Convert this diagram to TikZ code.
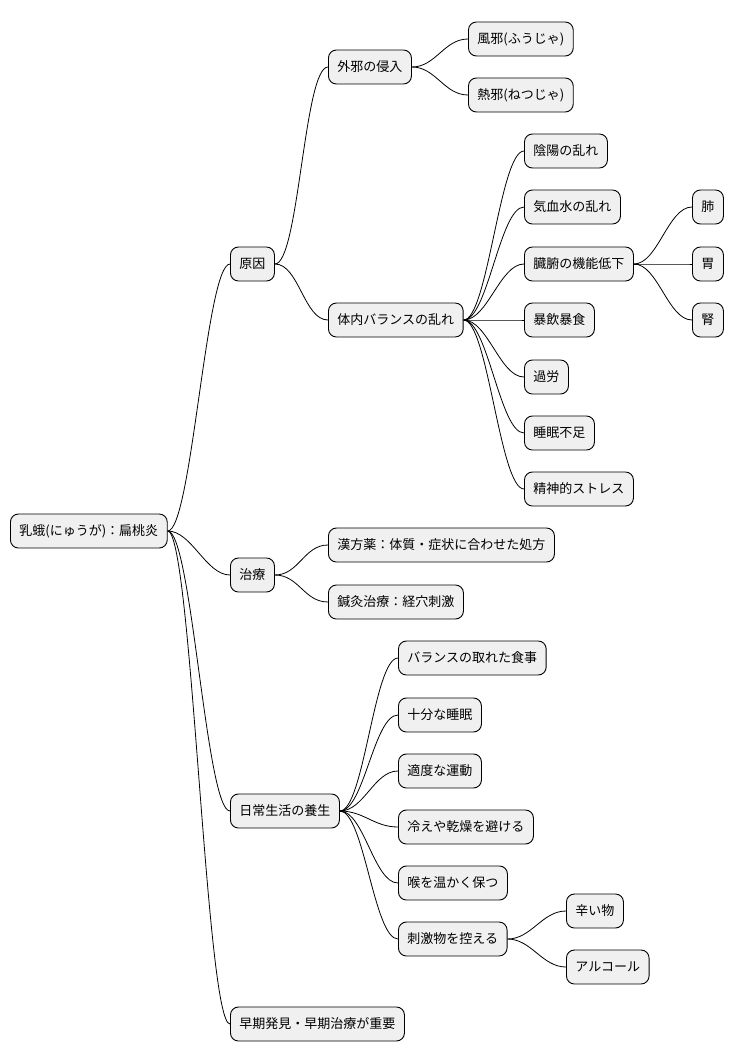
\documentclass[tikz,border=0pt]{standalone}
\usepackage{fontspec}
\setmainfont{Noto Sans CJK JP}
\begin{document}
\begin{tikzpicture}[x=1pt,y=-1pt,
 nd/.style={draw=black,line width=0.9pt,fill=black!6,rounded corners=8pt,anchor=west,minimum height=34pt,inner xsep=9pt,font=\fontsize{13}{15}\selectfont},
 ln/.style={line width=0.8pt}]
\useasboundingbox (0,0) rectangle (737,1062);
\node[nd] (r) at (10,531) {乳蛾(にゅうが)：扁桃炎};
\node[nd] (a) at (230,264) {原因};
\node[nd] (b) at (230,575) {治療};
\node[nd] (c) at (230,811) {日常生活の養生};
\node[nd] (d) at (230,1024) {早期発見・早期治療が重要};
\node[nd] (a1) at (328,67) {外邪の侵入};
\node[nd] (a2) at (328,320) {体内バランスの乱れ};
\node[nd] (a11) at (468,39) {風邪(ふうじゃ)};
\node[nd] (a12) at (468,95) {熱邪(ねつじゃ)};
\node[nd] (a21) at (524,151) {陰陽の乱れ};
\node[nd] (a22) at (524,207) {気血水の乱れ};
\node[nd] (a23) at (524,264) {臓腑の機能低下};
\node[nd] (a24) at (524,320) {暴飲暴食};
\node[nd] (a25) at (524,377) {過労};
\node[nd] (a26) at (524,433) {睡眠不足};
\node[nd] (a27) at (524,489) {精神的ストレス};
\node[nd] (p1) at (692,207) {肺};
\node[nd] (p2) at (692,264) {胃};
\node[nd] (p3) at (692,320) {腎};
\node[nd] (b1) at (328,545) {漢方薬：体質・症状に合わせた処方};
\node[nd] (b2) at (328,602) {鍼灸治療：経穴刺激};
\node[nd] (c1) at (398,658) {バランスの取れた食事};
\node[nd] (c2) at (398,715) {十分な睡眠};
\node[nd] (c3) at (398,771) {適度な運動};
\node[nd] (c4) at (398,827) {冷えや乾燥を避ける};
\node[nd] (c5) at (398,883) {喉を温かく保つ};
\node[nd] (c6) at (398,939) {刺激物を控える};
\node[nd] (c61) at (566,911) {辛い物};
\node[nd] (c62) at (566,967) {アルコール};
\foreach \p/\c in {r/a,r/b,r/c,r/d,a/a1,a/a2,a1/a11,a1/a12,a2/a21,a2/a22,a2/a23,a2/a24,a2/a25,a2/a26,a2/a27,a23/p1,a23/p2,a23/p3,b/b1,b/b2,c/c1,c/c2,c/c3,c/c4,c/c5,c/c6,c6/c61,c6/c62}
 \draw[ln] (\p.east) .. controls +(24,0) and +(-24,0) .. (\c.west);
\end{tikzpicture}
\end{document}
